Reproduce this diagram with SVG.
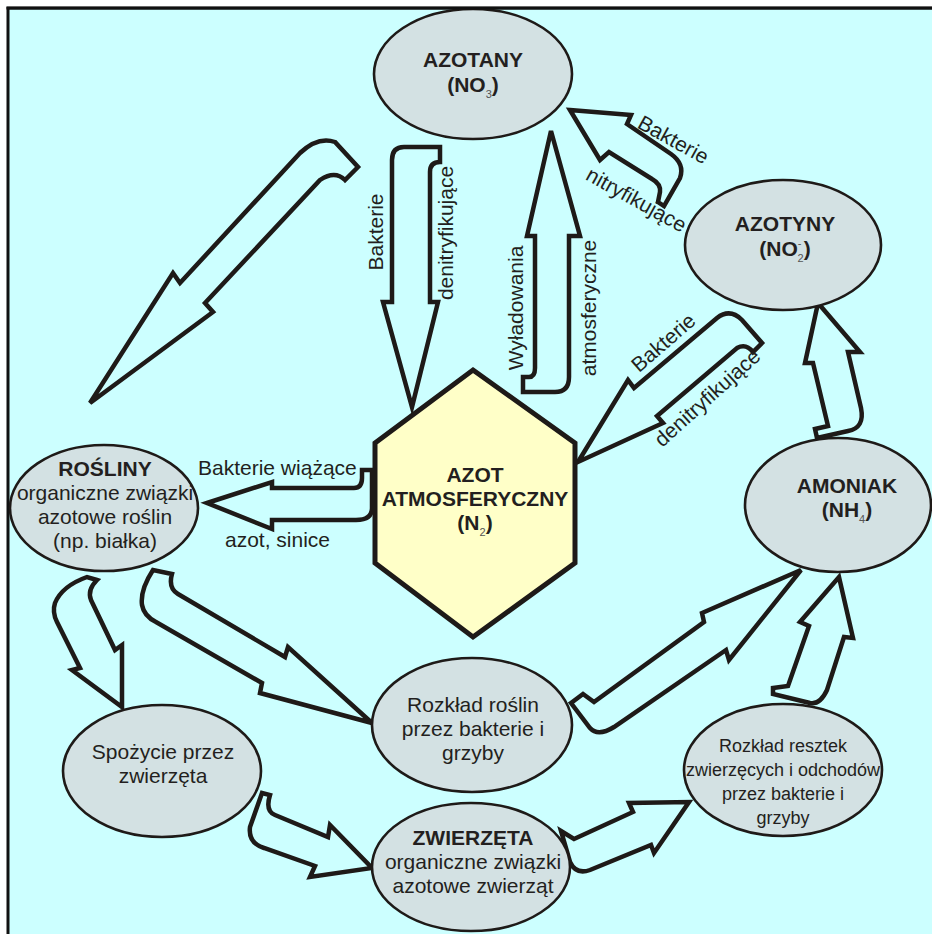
<svg xmlns="http://www.w3.org/2000/svg" width="932" height="934" viewBox="0 0 932 934">
<style>
.bg{fill:#ccffff;stroke:#111;stroke-width:3}
.node{fill:#d3e1e3;stroke:#1e1a18;stroke-width:2.6}
.hex{fill:#ffffc8;stroke:#1e1a18;stroke-width:5;stroke-linejoin:miter}
.arr{fill:#ccffff;stroke:#1e1a18;stroke-width:4.5;stroke-linejoin:miter}
text{font-family:"Liberation Sans",Arial,Helvetica,sans-serif;fill:#231f20}
.t{font-size:21px;text-anchor:middle}
.b{font-size:21px;font-weight:bold;text-anchor:middle}
.s{font-size:18px;text-anchor:middle}
.lab{font-size:21px;text-anchor:middle}
.labs{font-size:21px}
.sub{font-size:11px;font-weight:normal;fill:#555}
</style>
<rect x="0" y="0" width="932" height="934" fill="#ffffff"/>
<rect class="bg" x="8" y="8" width="940" height="940"/>

<g id="connectors">
  <path id="arrow-denitr-down" class="arr" d="M440,147 L404,147 Q392,147 392,160 L392,302 L383,302 L412,407 L438,302 L430,302 L430,172 Q430,162 440,162 Z"/>
  <path id="arrow-wyladowania" class="arr" d="M551,131 L580,236 L569,236 L569,377 Q569,392 555,392 L523,392 L523,377 L529,377 Q535,377 535,368 L535,236 L527,236 Z"/>
  <path id="arrow-nitr" class="arr" d="M570,110 L631,115 L627,124 L671,154 Q685,164 680,178 L664,206 L658,202 L660,192 Q661,184 652,179 L609,152 L600,160 Z"/>
  <path id="arrow-denitr-diag" class="arr" d="M578,462 L628,380 L634,388 L717,318 Q730,308 742,320 L762,343 L753,352 Q746,343 737,348 L657,416 L663,423 Z"/>
  <path id="arrow-amoniak-azotyny" class="arr" d="M818,303 L860,352 L848,352 L861,408 Q865,428 848,431 L817,438 L815,429 L828,426 L813,363 L805,363 Z"/>
  <path id="arrow-wiazace" class="arr" d="M207,503 L272,482 L272,488 L354,488 Q362,488 362,478 L362,470 L372,470 L372,508 Q372,520 356,520 L272,520 L272,529 Z"/>
  <path id="arrow-big-left" class="arr" d="M90,403 L173,273 L180,283 L300,153 Q318,136 335,142 L358,167 L345,180 Q335,170 320,180 L205,303 L213,312 Z"/>
  <path id="arrow-rosliny-spozycie" class="arr" d="M97,580 L87,577 Q62,586 55,603 Q52,612 57,622 L80,668 L72,670 L122,707 L122,645 L115,650 L91,600 Q87,590 97,580 Z"/>
  <path id="arrow-rosliny-rozklad" class="arr" d="M153,570 Q140,590 142,605 Q144,616 156,622 L262,683 L260,693 L372,723 L288,647 L285,657 L178,594 Q168,588 172,574 Z"/>
  <path id="arrow-spozycie-zwierzeta" class="arr" d="M262,793 L250,827 Q248,843 264,848 L315,866 L310,877 L372,868 L330,825 L328,837 L275,815 Q265,811 270,795 Z"/>
  <path id="arrow-zwierzeta-resztki" class="arr" d="M561,831 L574,839 L633,812 L629,803 L689,802 L654,853 L651,845 L590,870 Q576,875 570,862 Z"/>
  <path id="arrow-rozklad-amoniak" class="arr" d="M571,703 L583,694 L594,702 L704,622 L702,613 L801,570 L729,660 L726,650 L614,727 Q598,737 590,728 Z"/>
  <path id="arrow-resztki-amoniak" class="arr" d="M773,688 L788,686 L809,626 L800,622 L839,577 L853,638 L844,637 L827,690 Q820,705 810,703 L773,694 Z"/>

  <text class="lab" transform="translate(383,232) rotate(-90)">Bakterie</text>
  <text class="lab" transform="translate(453,233) rotate(-90)">denitryfikujące</text>
  <text class="lab" transform="translate(523,308) rotate(-90)">Wyładowania</text>
  <text class="lab" transform="translate(596,308) rotate(-90)">atmosferyczne</text>
  <text class="lab" transform="translate(670,146) rotate(29)">Bakterie</text>
  <text class="lab" transform="translate(633,206) rotate(29)">nitryfikujące</text>
  <text class="lab" transform="translate(668,348) rotate(-41)">Bakterie</text>
  <text class="lab" transform="translate(712,403) rotate(-42)">denitryfikujące</text>
  <text class="labs" x="198" y="475">Bakterie wiążące</text>
  <text class="labs" x="225" y="547">azot, sinice</text>
</g>

<g id="node-azotany">
  <ellipse class="node" cx="473" cy="74" rx="99" ry="65"/>
  <text class="b" x="473" y="67">AZOTANY</text>
  <text class="b" x="473" y="92">(NO<tspan class="sub" dy="6">3</tspan><tspan dy="-6">)</tspan></text>
</g>
<rect x="0" y="0" width="932" height="6.5" fill="#ffffff"/>
<line x1="6.5" y1="8" x2="932" y2="8" stroke="#111" stroke-width="3"/>

<g id="node-azotyny">
  <ellipse class="node" cx="783" cy="245" rx="98" ry="65"/>
  <text class="b" x="785" y="231">AZOTYNY</text>
  <text class="b" x="785" y="256">(NO<tspan class="sub" dy="-9">-</tspan><tspan class="sub" dx="-4" dy="15">2</tspan><tspan dy="-6">)</tspan></text>
</g>

<g id="node-amoniak">
  <ellipse class="node" cx="838" cy="505" rx="93" ry="67"/>
  <text class="b" x="847" y="493">AMONIAK</text>
  <text class="b" x="847" y="517">(NH<tspan class="sub" dy="6">4</tspan><tspan dy="-6">)</tspan></text>
</g>

<g id="node-azot">
  <polygon class="hex" points="473,370 575,443 575,563 473,637 375,563 375,443"/>
  <text class="b" x="475" y="482">AZOT</text>
  <text class="b" x="475" y="506">ATMOSFERYCZNY</text>
  <text class="b" x="475" y="530">(N<tspan class="sub" dy="6">2</tspan><tspan dy="-6">)</tspan></text>
</g>

<g id="node-rosliny">
  <ellipse class="node" cx="104" cy="508" rx="94" ry="63"/>
  <text class="b" x="105" y="476">ROŚLINY</text>
  <text class="t" x="105" y="500">organiczne związki</text>
  <text class="t" x="105" y="524">azotowe roślin</text>
  <text class="t" x="105" y="548">(np. białka)</text>
</g>

<g id="node-rozklad-roslin">
  <ellipse class="node" cx="472" cy="725" rx="100" ry="67"/>
  <text class="t" x="473" y="712">Rozkład roślin</text>
  <text class="t" x="473" y="736">przez bakterie i</text>
  <text class="t" x="473" y="760">grzyby</text>
</g>

<g id="node-spozycie">
  <ellipse class="node" cx="162" cy="771" rx="99" ry="66"/>
  <text class="t" x="163" y="759">Spożycie przez</text>
  <text class="t" x="163" y="783">zwierzęta</text>
</g>

<g id="node-zwierzeta">
  <ellipse class="node" cx="471" cy="867" rx="99" ry="64"/>
  <text class="b" x="473" y="845">ZWIERZĘTA</text>
  <text class="t" x="473" y="869">organiczne związki</text>
  <text class="t" x="473" y="893">azotowe zwierząt</text>
</g>

<g id="node-rozklad-resztek">
  <ellipse class="node" cx="783" cy="770" rx="99" ry="66"/>
  <text class="s" x="783" y="752">Rozkład resztek</text>
  <text class="s" x="783" y="776">zwierzęcych i odchodów</text>
  <text class="s" x="783" y="800">przez bakterie i</text>
  <text class="s" x="783" y="824">grzyby</text>
</g>
</svg>
